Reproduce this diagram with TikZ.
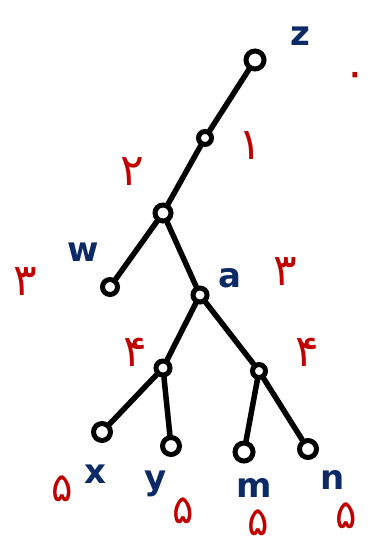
\documentclass[tikz,border=0pt]{standalone}
\usepackage{fontspec}
\newfontfamily\arabicfont[Script=Arabic]{DejaVu Sans}
\newfontfamily\labfont{DejaVu Sans}
\definecolor{inkblue}{HTML}{0B2A66}
\definecolor{inkred}{HTML}{C00000}
\tikzset{
  vert/.style={circle,draw=black,line width=5pt,inner sep=0pt,minimum size=#1},
  vert/.default=14pt,
  edgeline/.style={line width=5.5pt,line cap=round},
  vlabel/.style={text=inkblue,font=\labfont\bfseries\fontsize{34}{34}\selectfont,inner sep=0pt},
  dlabel/.style={text=inkred,font=\arabicfont\fontsize{44}{44}\selectfont,inner sep=0pt},
  leafd/.style={dlabel,font=\arabicfont\fontsize{40}{40}\selectfont}
}
\begin{document}
\begin{tikzpicture}[x=1pt,y=-1pt]
\useasboundingbox (0,0) rectangle (385,548);
% vertices
\node[vert=18pt] (z) at (255,60) {};
\node[vert=13pt] (v1) at (205,138) {};
\node[vert=16pt] (v2) at (163,213) {};
\node[vert=15pt] (w) at (110,287) {};
\node[vert=14pt] (a) at (200,295) {};
\node[vert=14pt] (v3) at (163,368) {};
\node[vert=13pt] (v4) at (259,371) {};
\node[vert=17pt] (x) at (102,432) {};
\node[vert=17pt] (y) at (171,446) {};
\node[vert=18pt] (m) at (244,452) {};
\node[vert=17pt] (n) at (308,449) {};
% edges
\draw[edgeline] (z) -- (v1);
\draw[edgeline] (v1) -- (v2);
\draw[edgeline] (v2) -- (w);
\draw[edgeline] (v2) -- (a);
\draw[edgeline] (a) -- (v3);
\draw[edgeline] (a) -- (v4);
\draw[edgeline] (v3) -- (x);
\draw[edgeline] (v3) -- (y);
\draw[edgeline] (v4) -- (m);
\draw[edgeline] (v4) -- (n);
% names
\node[vlabel] (lz) at (300,36) {z};
\node[vlabel] (lw) at (83,252) {w};
\node[vlabel] (la) at (230,278) {a};
\node[vlabel] (lx) at (95,474) {x};
\node[vlabel] (ly) at (156,484) {y};
\node[vlabel] (lm) at (254,488) {m};
\node[vlabel] (ln) at (333,480) {n};
% depths
\node[dlabel] (d0) at (355,80) {۰};
\node[dlabel] (d1) at (250,146) {۱};
\node[dlabel] (d2) at (132,172) {۲};
\node[dlabel] (d3w) at (25,282) {۳};
\node[dlabel] (d3a) at (285,272) {۳};
\node[dlabel] (d4a) at (135,352) {۴};
\node[dlabel] (d4b) at (307,352) {۴};
\node[leafd] (d5x) at (62,489) {۵};
\node[leafd] (d5y) at (183,511) {۵};
\node[leafd] (d5m) at (258,523) {۵};
\node[leafd] (d5n) at (346,516) {۵};
\end{tikzpicture}
\end{document}
